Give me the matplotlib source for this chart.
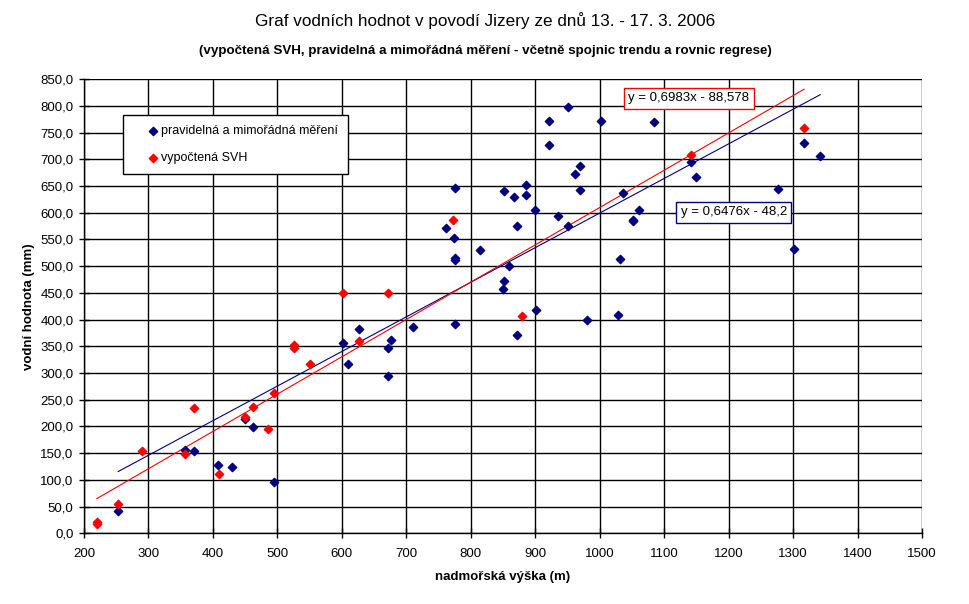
import numpy as np
import matplotlib
matplotlib.use("Agg")
import matplotlib.pyplot as plt
from matplotlib.ticker import FuncFormatter, MultipleLocator

plt.rcParams['font.family'] = ['Liberation Sans', 'DejaVu Sans']

# pravidelna a mimoradna mereni (modre)
mereni_x = [253, 356, 371, 408, 430, 450, 462, 495, 601, 610, 626, 671, 676, 671,
            711, 776, 761, 774, 776, 776, 776, 815, 851, 850, 860, 871, 871, 851,
            867, 886, 886, 900, 901, 935, 950, 922, 950, 1002, 1084, 922, 970, 961,
            970, 981, 1028, 1031, 1036, 1061, 1051, 1052, 1142, 1150, 1277, 1301,
            1317, 1342]
mereni_y = [42, 156, 154, 128, 124, 214, 199, 96, 356, 317, 382, 347, 362, 294,
            386, 392, 572, 553, 516, 512, 647, 531, 472, 457, 500, 371, 576, 641,
            630, 651, 634, 606, 418, 593, 575, 772, 797, 772, 769, 727, 688, 673,
            643, 399, 409, 513, 636, 605, 584, 587, 694, 666, 645, 532,
            730, 707]

# vypoctena SVH (cervene)
svh_x = [220, 220, 253, 290, 356, 371, 410, 450, 462, 486, 495, 526, 526, 551,
         601, 626, 671, 773, 880, 1142, 1317]
svh_y = [22, 17, 55, 154, 149, 234, 111, 218, 236, 195, 262, 347, 352, 317,
         450, 359, 450, 587, 407, 708, 759]

# rovnice regrese z grafu
mereni_k, mereni_q = 0.6476, -48.2
svh_k, svh_q = 0.6983, -88.578

BLUE = '#000080'
RED = '#ff0000'

fig = plt.figure(figsize=(9.7, 6.04), dpi=100)
ax = fig.add_axes([0.0866, 0.117, 0.864, 0.752])

ax.scatter(mereni_x, mereni_y, marker='D', s=18, color=BLUE, zorder=3,
           label='pravidelná a mimořádná měření')
ax.scatter(svh_x, svh_y, marker='D', s=18, color=RED, zorder=4,
           label='vypočtená SVH')

xm = np.array([min(mereni_x), max(mereni_x)])
ax.plot(xm, mereni_k * xm + mereni_q, color=BLUE, lw=0.8, zorder=2)
xs = np.array([min(svh_x), max(svh_x)])
ax.plot(xs, svh_k * xs + svh_q, color=RED, lw=0.8, zorder=2)

ax.set_xlim(200, 1500)
ax.set_ylim(0, 850)
ax.xaxis.set_major_locator(MultipleLocator(100))
ax.yaxis.set_major_locator(MultipleLocator(50))
ax.yaxis.set_major_formatter(FuncFormatter(lambda v, p: f'{v:.1f}'.replace('.', ',')))
ax.grid(True, color='black', lw=1.0)
ax.set_axisbelow(True)
for s in ['top', 'right']:
    ax.spines[s].set_visible(False)
for s in ['left', 'bottom']:
    ax.spines[s].set_linewidth(1.0)
ax.tick_params(direction='inout', length=7, width=1, labelsize=9.5)
ax.tick_params(axis='x', pad=7)
ax.tick_params(axis='y', pad=4)

ax.set_xlabel('nadmořská výška (m)', fontsize=9.5, fontweight='bold', labelpad=8)
ax.set_ylabel('vodní hodnota (mm)', fontsize=9.5, fontweight='bold', labelpad=4)

fig.text(0.5, 0.966, 'Graf vodních hodnot v povodí Jizery ze dnů 13. - 17. 3. 2006',
         ha='center', va='center', fontsize=12.3)
fig.text(0.5, 0.916, '(vypočtená SVH, pravidelná a mimořádná měření - včetně spojnic trendu a rovnic regrese)',
         ha='center', va='center', fontsize=9.6, fontweight='bold')

ax.text(1137.9, 814.2, 'y = 0,6983x - 88,578', ha='center', va='center', fontsize=9.5,
        bbox=dict(boxstyle='square,pad=0.35', fc='white', ec=RED, lw=1), zorder=5)
ax.text(1207.8, 600.5, 'y = 0,6476x - 48,2', ha='center', va='center', fontsize=9.5,
        bbox=dict(boxstyle='square,pad=0.35', fc='white', ec=BLUE, lw=1), zorder=5)

leg = ax.legend(loc='upper left', bbox_to_anchor=(0.0465, 0.921), fontsize=9,
                frameon=True, fancybox=False, edgecolor='black', framealpha=1,
                borderpad=0.8, labelspacing=1.2, handletextpad=-0.95,
                handlelength=3.2, borderaxespad=0)
leg.get_frame().set_linewidth(1.0)
leg.set_zorder(6)

fig.savefig('out.png', dpi=100)
